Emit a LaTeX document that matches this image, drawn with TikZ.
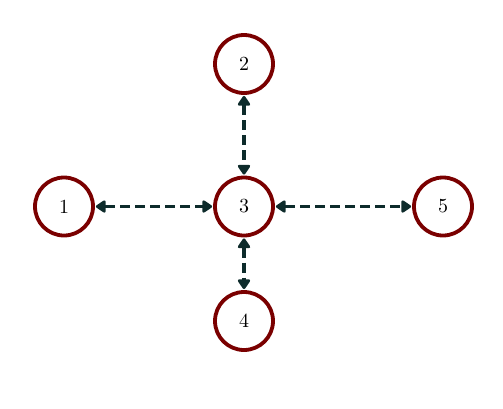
\documentclass[tikz,border=0pt]{standalone}
\usepackage{fontspec}
\setmainfont{lmroman10-regular}[Extension=.otf]
\usetikzlibrary{arrows.meta}
\definecolor{nodered}{HTML}{7A0000}
\definecolor{edgeteal}{HTML}{0D2B2B}
\begin{document}
\begin{tikzpicture}[x=1pt,y=-1pt,
  vertex/.style={circle, draw=nodered, line width=3.8pt, minimum size=58pt, inner sep=0pt, font=\fontsize{20}{24}\selectfont, fill=white},
  link/.style={{Triangle[round,length=11pt,width=14pt]}-{Triangle[round,length=11pt,width=14pt]}, draw=edgeteal, line width=3.2pt, dash pattern=on 10pt off 5pt, shorten <=1pt, shorten >=1pt}]
\useasboundingbox (0,0) rectangle (503,408);
\node[vertex] (n1) at (64,206.5) {1};
\node[vertex] (n2) at (244,64) {2};
\node[vertex] (n3) at (244,206.5) {3};
\node[vertex] (n4) at (244,321) {4};
\node[vertex] (n5) at (443,206.5) {5};
\draw[link] (n2) -- (n3);
\draw[link] (n1) -- (n3);
\draw[link] (n3) -- (n5);
\draw[link] (n3) -- (n4);
\end{tikzpicture}
\end{document}
